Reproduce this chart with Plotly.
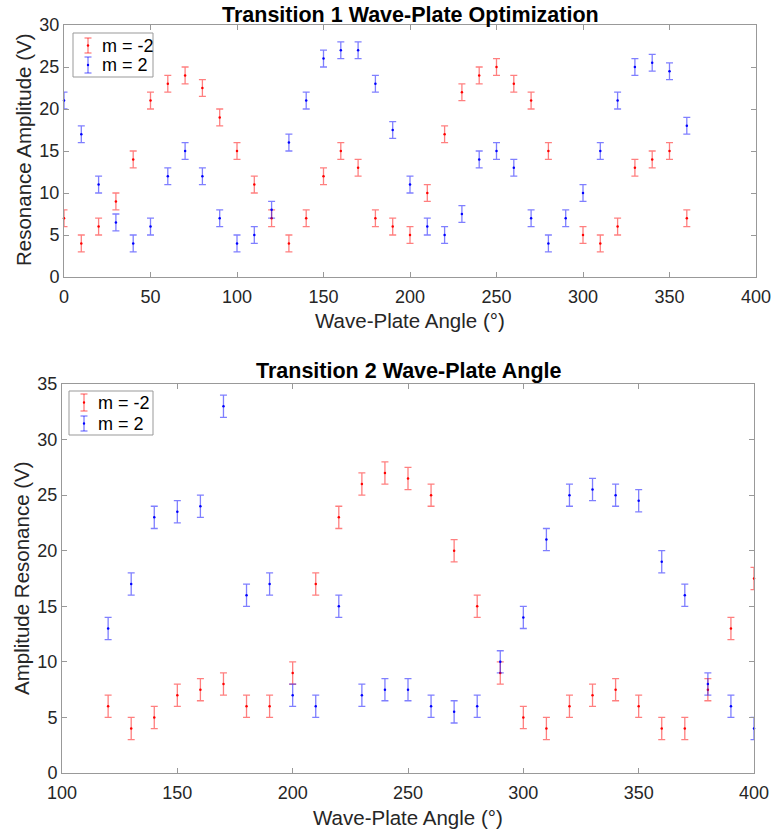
import plotly.graph_objects as go

# ---- Data: Transition 1 ----
t1_angle = list(range(0, 361, 10))
t1_red = [7, 4, 6, 9, 14, 21, 23, 24, 22.5, 19, 15, 11, 7, 4, 7, 12, 15, 13, 7,
          6, 5, 10, 17, 22, 24, 25, 23, 21, 15, None, 5, 4, 6, 13, 14, 15, 7]
t1_blue = [21, 17, 11, 6.5, 4, 6, 12, 15, 12, 7, 4, 5, 8, 16, 21, 26, 27, 27, 23,
           17.5, 11, 6, 5, 7.5, 14, 15, 13, 7, 4, 7, 10, 15, 21, 25, 25.5, 24.5, 18]
t1_err = 1

# ---- Data: Transition 2 ----
t2_angle = list(range(120, 401, 10))
t2_red = [6, 4, 5, 7, 7.5, 8, 6, 6, 9, 17, 23, 26, 27, 26.5, 25, 20, 15, 9,
          5, 4, 6, 7, 7.5, 6, 4, 4, 7.5, 13, 17.5]
t2_blue = [13, 17, 23, 23.5, 24, 33, 16, 17, 7, 6, 15, 7, 7.5, 7.5, 6, 5.5, 6, 10,
           14, 21, 25, 25.5, 25, 24.5, 19, 16, 8, 6, 4]
t2_err = 1

series_names = ["m = -2", "m = 2"]
RED = "#ff0000"
BLUE = "#0000ff"
RED_E = "rgba(255,0,0,0.5)"
BLUE_E = "rgba(0,0,255,0.5)"

fig = go.Figure()

def add(x, y, err, name, col, ecol, xa, ya):
    fig.add_trace(go.Scatter(
        x=x, y=y, mode="markers", name=name, showlegend=False,
        marker=dict(color=col, size=2.5),
        error_y=dict(type="constant", value=err, color=ecol, thickness=1.3, width=3.5),
        xaxis=xa, yaxis=ya, cliponaxis=False))

add(t1_angle, t1_red, t1_err, series_names[0], RED, RED_E, "x", "y")
add(t1_angle, t1_blue, t1_err, series_names[1], BLUE, BLUE_E, "x", "y")
add(t2_angle, t2_red, t2_err, series_names[0], RED, RED_E, "x2", "y2")
add(t2_angle, t2_blue, t2_err, series_names[1], BLUE, BLUE_E, "x2", "y2")

FONT = "Liberation Sans, Arial, sans-serif"
AXC = "#999999"
AX = dict(showline=True, linecolor=AXC, linewidth=1, mirror="ticks",
          ticks="inside", ticklen=5, tickcolor=AXC, showgrid=False,
          zeroline=False, automargin=False,
          tickfont=dict(family=FONT, size=18, color="#262626"))

W, H = 775, 830
L, R, T, B = 62, 19, 25, 57
pw = W - L - R
ph = H - T - B

def fx(px):
    return (px - L) / pw

def fy(py):
    return (H - B - py) / ph

TF = dict(family=FONT, size=20.5, color="#262626")

fig.update_layout(
    template="none",
    width=W, height=H, margin=dict(l=L, r=R, t=T, b=B, autoexpand=False),
    paper_bgcolor="white", plot_bgcolor="white",
    font=dict(family=FONT, color="#262626"),
    showlegend=False,
    xaxis=dict(AX, domain=[fx(64), fx(756)], range=[0, 400], tickvals=list(range(0, 401, 50)),
               anchor="y", ticklabelstandoff=3),
    yaxis=dict(AX, domain=[fy(277), fy(25)], range=[0, 30], tickvals=list(range(0, 31, 5)),
               anchor="x"),
    xaxis2=dict(AX, domain=[fx(62), fx(754)], range=[100, 400], tickvals=list(range(100, 401, 50)),
                anchor="y2", ticklabelstandoff=3),
    yaxis2=dict(AX, domain=[fy(773), fy(384)], range=[0, 35], tickvals=list(range(0, 36, 5)),
                anchor="x2"),
)

ann = [
    dict(text="<b>Transition 1 Wave-Plate Optimization</b>", x=(fx(64) + fx(756)) / 2, y=fy(15),
         font=dict(family=FONT, size=21.5, color="#000000")),
    dict(text="<b>Transition 2 Wave-Plate Angle</b>", x=(fx(62) + fx(754)) / 2, y=fy(371),
         font=dict(family=FONT, size=21.5, color="#000000")),
    dict(text="Wave-Plate Angle (°)", x=(fx(64) + fx(756)) / 2, y=fy(320), font=TF),
    dict(text="Wave-Plate Angle (°)", x=(fx(62) + fx(754)) / 2, y=fy(817), font=TF),
    dict(text="Resonance Amplitude (V)", x=fx(23), y=fy(150), font=TF, textangle=-90),
    dict(text="Amplitude Resonance (V)", x=fx(21), y=fy(578), font=TF, textangle=-90),
]
shapes = []

# custom legends drawn to match the reference's error-bar legend icons
def legend(box, icon_x, text_x, rows):
    x0, y0, x1, y1 = box
    shapes.append(dict(type="rect", xref="paper", yref="paper",
                       x0=fx(x0), x1=fx(x1), y0=fy(y1), y1=fy(y0),
                       line=dict(color=AXC, width=1), fillcolor="white", layer="above"))
    for (name, col, ecol, ya, yb) in rows:
        ym = (ya + yb) / 2
        shapes.append(dict(type="line", xref="paper", yref="paper", x0=fx(icon_x), x1=fx(icon_x),
                           y0=fy(ya), y1=fy(yb), line=dict(color=ecol, width=1.3), layer="above"))
        for yy in (ya, yb):
            shapes.append(dict(type="line", xref="paper", yref="paper", x0=fx(icon_x - 3.5),
                               x1=fx(icon_x + 3.5), y0=fy(yy), y1=fy(yy),
                               line=dict(color=ecol, width=1.3), layer="above"))
        shapes.append(dict(type="circle", xref="paper", yref="paper", x0=fx(icon_x - 1.2),
                           x1=fx(icon_x + 1.2), y0=fy(ym - 1.2), y1=fy(ym + 1.2),
                           fillcolor=col, line=dict(width=0), layer="above"))
        ann.append(dict(text=name, x=fx(text_x), y=fy(ym), xanchor="left",
                        font=dict(family=FONT, size=18, color="#000000")))

legend((73, 33, 153, 77), 88, 100,
       [(series_names[0], RED, RED_E, 38, 53), (series_names[1], BLUE, BLUE_E, 57, 73)])
legend((69, 391, 153, 435), 84, 96,
       [(series_names[0], RED, RED_E, 394, 411), (series_names[1], BLUE, BLUE_E, 416, 431)])

for a in ann:
    a.setdefault("xanchor", "center")
    a.update(xref="paper", yref="paper", yanchor="middle", showarrow=False)

fig.update_layout(annotations=ann, shapes=shapes)

fig.write_html("out.html")
